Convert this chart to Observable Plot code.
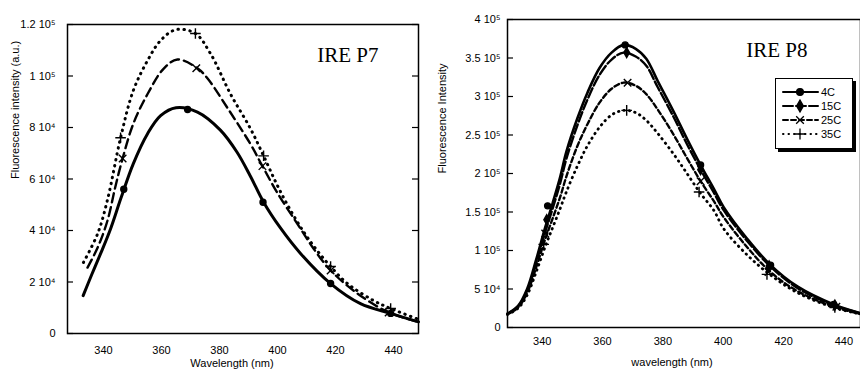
<!DOCTYPE html>
<html><head><meta charset="utf-8">
<script src="https://cdn.jsdelivr.net/npm/d3@7"></script>
<script src="https://cdn.jsdelivr.net/npm/@observablehq/plot@0.6"></script>
<style>
body{margin:0;background:#fff;font-family:"Liberation Sans",Arial,sans-serif;}
#wrap{position:relative;width:860px;height:370px;display:flex;overflow:hidden;}
.panel{width:430px;height:370px;}
#legend{position:absolute;left:775px;top:78px;width:76px;height:69px;border:1.2px solid #000;box-shadow:3px 3px 0 #000;background:#fff;}
</style></head><body>
<div id="wrap"><div id="p7" class="panel"></div><div id="p8" class="panel"></div><div id="legend"></div></div>
<script>
// ---------- DATA ----------
const seriesNames = ["4C", "15C", "25C", "35C"];

// IRE P7 (left panel)
const p7_4C_nm = [333, 336, 339, 342.4, 346, 350.3, 355.2, 359.7, 365, 372.4, 380.3, 386, 390.7, 395.2, 401, 408, 418.3, 428.6, 439, 448.6];
const p7_4C_v  = [14700, 23000, 31000, 40500, 52500, 66000, 77600, 84600, 87700, 86000, 79000, 70500, 61000, 51000, 41000, 31000, 19400, 11600, 7800, 4500];
const p7_25C_nm = [334.5, 338, 341.4, 344.1, 346.6, 350.3, 355.2, 360.7, 365.5, 372.4, 375.9, 382.8, 390.7, 394.8, 400, 406.9, 412.4, 418.3, 427.6, 438.3, 448.6];
const p7_25C_v  = [25600, 33400, 43900, 57000, 68000, 81500, 93000, 102800, 106400, 103000, 99000, 87500, 73500, 65000, 54500, 42500, 33000, 24500, 15500, 8200, 4500];
const p7_35C_nm = [333.1, 338, 341.4, 345.9, 350.3, 355.2, 359.7, 365, 371.7, 376.9, 383.8, 390.7, 395.2, 399.3, 403.4, 409, 413.8, 418.3, 424.1, 433.1, 439, 448.6];
const p7_35C_v  = [27600, 38800, 52000, 76000, 94400, 106000, 113800, 118000, 116500, 108700, 93000, 79500, 69000, 59000, 50000, 39500, 32000, 26000, 19400, 12800, 9700, 5500];
// P7 marker points
const p7_4C_mk_nm = [347, 369, 395, 418.3, 439];
const p7_4C_mk_v  = [56000, 87000, 51000, 19400, 7800];
const p7_25C_mk_nm = [346.6, 372, 394.8, 418.3, 438.3];
const p7_25C_mk_v  = [68000, 103000, 65000, 24500, 8200];
const p7_35C_mk_nm = [345.9, 371.7, 395.2, 418.3, 439];
const p7_35C_mk_v  = [76000, 116500, 69000, 26000, 9700];

// IRE P8 (right panel)
const p8_nm = [328.5, 332, 335, 338, 341, 343.5, 346, 348, 351.7, 355, 359, 363, 367, 371, 374.5, 378.3, 383.6, 388, 392.5, 396.9, 400.2, 408, 415.7, 424.7, 436.6, 446];
const p8_4C_v  = [18000, 28000, 50000, 88000, 130000, 162000, 196000, 228000, 272000, 305000, 337000, 357000, 367000, 362000, 349000, 320000, 280000, 245000, 211000, 180000, 156000, 115000, 81000, 53000, 30000, 18000];
const p8_15C_v = [18000, 27000, 48000, 84000, 124000, 155000, 188000, 219000, 263000, 296000, 328000, 348000, 357000, 352000, 340000, 312000, 273000, 238000, 205000, 175000, 152000, 112000, 79000, 51000, 29000, 18000];
const p8_25C_v = [17000, 26000, 45000, 78000, 115000, 142000, 170000, 196000, 236000, 264000, 292000, 310000, 318000, 314000, 303000, 283000, 250000, 220000, 190000, 164000, 143000, 104000, 72000, 47000, 27000, 17000];
const p8_35C_v = [17000, 25000, 42000, 72000, 105000, 130000, 155000, 176000, 210000, 236000, 260000, 276000, 282000, 279000, 269000, 252000, 225000, 200000, 174000, 152000, 128000, 94000, 68000, 45000, 26000, 17000];
// P8 marker points
const p8_4C_mk_nm = [341.8, 367.5, 392.5, 415.7, 436.6];
const p8_4C_mk_v  = [158000, 367000, 211000, 81000, 30000];
const p8_15C_mk_nm = [341.5, 368, 392.5, 415.2, 437];
const p8_15C_mk_v  = [140000, 357000, 205000, 80000, 29000];
const p8_25C_mk_nm = [341, 368.3, 392.5, 415, 437.5];
const p8_25C_mk_v  = [122000, 318000, 190000, 72000, 27000];
const p8_35C_mk_nm = [340.5, 368, 392, 414.5, 437];
const p8_35C_mk_v  = [108000, 282000, 176000, 69000, 26000];

// ticks
const p7_xTicks = [340, 360, 380, 400, 420, 440];
const p7_yTicks = [0, 20000, 40000, 60000, 80000, 100000, 120000];
const p7_yLabels = ["0", "2 10\u2074", "4 10\u2074", "6 10\u2074", "8 10\u2074", "1 10\u2075", "1.2 10\u2075"];
const p8_xTicks = [340, 360, 380, 400, 420, 440];
const p8_yTicks = [0, 50000, 100000, 150000, 200000, 250000, 300000, 350000, 400000];
const p8_yLabels = ["0", "5 10\u2074", "1 10\u2075", "1.5 10\u2075", "2 10\u2075", "2.5 10\u2075", "3 10\u2075", "3.5 10\u2075", "4 10\u2075"];

// ---------- STYLES ----------
const style = {
  "4C":  {dash: null,     width: 2.6, symbol: "circle",  fill: "black", r: 3},
  "15C": {dash: "10,3",   width: 2.4, symbol: "diamond", fill: "black", r: 3},
  "25C": {dash: "5,3",    width: 2.4, symbol: "times",   fill: "none",  r: 3.5},
  "35C": {dash: "0.5,5",  width: 2.8, symbol: "plus",    fill: "none",  r: 3.5}
};
const p7Style = {
  "4C":  {dash: null, width: 3},
  "25C": {dash: "9,5", width: 2.4},
  "35C": {dash: "0.5,5.5", width: 3}
};

const rows = (nm, v) => nm.map((x, i) => ({nm: x, v: v[i]}));

function seriesMarks(lineRows, mkRows, name, lineStyle) {
  const s = style[name];
  const ls = lineStyle || s;
  return [
    Plot.line(lineRows, {x: "nm", y: "v", curve: "catmull-rom", stroke: "black",
      strokeWidth: ls.width, strokeDasharray: ls.dash, strokeLinecap: "round"}),
    Plot.dot(mkRows, {x: "nm", y: "v", symbol: () => s.symbol, r: s.r,
      fill: s.fill === "none" ? "none" : "black", stroke: "black", strokeWidth: 1.4})
  ];
}

const fontStyle = {fontFamily: "'Liberation Sans', Arial, sans-serif", fontSize: "11px", color: "black", background: "white"};

// ---------- LEFT PANEL ----------
{
  const W = 430, ml = 67, mr = 12;
  const fw = W - ml - mr;
  const lab = new Map(p7_yTicks.map((t, i) => [t, p7_yLabels[i]]));
  const plot = Plot.plot({
    width: W, height: 370, marginLeft: ml, marginRight: mr, marginTop: 24, marginBottom: 37,
    style: fontStyle,
    x: {domain: [327.6, 448.6]},
    y: {domain: [0, 120000]},
    marks: [
      Plot.frame({stroke: "black", strokeWidth: 1.5}),
      Plot.axisX({ticks: p7_xTicks, tickSize: 0, tickPadding: 13, label: null, tickFormat: d => String(d)}),
      Plot.axisY({ticks: p7_yTicks, tickSize: 0, tickPadding: 12, label: null, tickFormat: d => lab.get(d)}),
      Plot.tickY(p7_yTicks, {y: d => d, insetRight: fw - 6, stroke: "black", strokeWidth: 1.2}),
      Plot.tickY(p7_yTicks, {y: d => d, insetLeft: fw - 6, stroke: "black", strokeWidth: 1.2}),
      ...seriesMarks(rows(p7_35C_nm, p7_35C_v), rows(p7_35C_mk_nm, p7_35C_mk_v), "35C", p7Style["35C"]),
      ...seriesMarks(rows(p7_25C_nm, p7_25C_v), rows(p7_25C_mk_nm, p7_25C_mk_v), "25C", p7Style["25C"]),
      ...seriesMarks(rows(p7_4C_nm, p7_4C_v), rows(p7_4C_mk_nm, p7_4C_mk_v), "4C", p7Style["4C"]),
      Plot.text(["IRE P7"], {text: d => d, frameAnchor: "top-right", dx: -40, dy: 23, lineAnchor: "top", textAnchor: "end",
        fontFamily: "'Liberation Serif', 'Times New Roman', serif", fontSize: 21}),
      Plot.text(["Wavelength (nm)"], {text: d => d, frameAnchor: "bottom", dx: -11, dy: 30, lineAnchor: "middle", fontSize: 11}),
      Plot.text(["Fluorescence intensity (a.u.)"], {text: d => d, frameAnchor: "left", dx: -52, rotate: -90, lineAnchor: "middle", fontSize: 11})
    ]
  });
  document.getElementById("p7").append(plot);
}

// ---------- RIGHT PANEL ----------
{
  const W = 430, ml = 77, mr = 0;
  const fw = W - ml - mr;
  const lab = new Map(p8_yTicks.map((t, i) => [t, p8_yLabels[i]]));
  const plot = Plot.plot({
    width: W, height: 370, marginLeft: ml, marginRight: mr, marginTop: 19, marginBottom: 43,
    style: fontStyle,
    x: {domain: [328.5, 445.5]},
    y: {domain: [0, 400000]},
    marks: [
      Plot.frame({stroke: "black", strokeWidth: 1.5}),
      Plot.axisX({ticks: p8_xTicks, tickSize: 0, tickPadding: 10, label: null, tickFormat: d => String(d)}),
      Plot.axisY({ticks: p8_yTicks, tickSize: 0, tickPadding: 7, label: null, tickFormat: d => lab.get(d)}),
      Plot.tickY(p8_yTicks, {y: d => d, insetRight: fw - 6, stroke: "black", strokeWidth: 1.2}),
      ...seriesMarks(rows(p8_nm, p8_35C_v), rows(p8_35C_mk_nm, p8_35C_mk_v), "35C"),
      ...seriesMarks(rows(p8_nm, p8_25C_v), rows(p8_25C_mk_nm, p8_25C_mk_v), "25C"),
      ...seriesMarks(rows(p8_nm, p8_15C_v), rows(p8_15C_mk_nm, p8_15C_mk_v), "15C"),
      ...seriesMarks(rows(p8_nm, p8_4C_v), rows(p8_4C_mk_nm, p8_4C_mk_v), "4C"),
      Plot.text(["IRE P8"], {text: d => d, frameAnchor: "top-right", dx: -53, dy: 23, lineAnchor: "top", textAnchor: "end",
        fontFamily: "'Liberation Serif', 'Times New Roman', serif", fontSize: 21}),
      Plot.text(["wavelength (nm)"], {text: d => d, frameAnchor: "bottom", dx: -12, dy: 35, lineAnchor: "middle", fontSize: 11}),
      Plot.text(["Fluorescence Intensity"], {text: d => d, frameAnchor: "left", dx: -65, rotate: -90, lineAnchor: "middle", fontSize: 11})
    ]
  });
  document.getElementById("p8").append(plot);
}

// ---------- LEGEND ----------
{
  const svg = d3.select("#legend").append("svg").attr("width", 76).attr("height", 69)
    .style("font-family", "'Liberation Sans', Arial, sans-serif").style("font-size", "11px");
  const sym = {circle: d3.symbolCircle, diamond: d3.symbolDiamond, times: d3.symbolTimes, plus: d3.symbolPlus};
  seriesNames.forEach((name, i) => {
    const s = style[name];
    const y = 13 + i * 14;
    svg.append("line").attr("x1", 7).attr("x2", 42).attr("y1", y).attr("y2", y)
      .attr("stroke", "black").attr("stroke-width", 2).attr("stroke-linecap", "round")
      .attr("stroke-dasharray", s.dash);
    svg.append("path").attr("transform", `translate(24,${y})`)
      .attr("d", d3.symbol(sym[s.symbol], s.symbol === "circle" ? 36 : 40)())
      .attr("fill", s.fill === "none" ? "none" : "black").attr("stroke", "black").attr("stroke-width", 1.3);
    svg.append("text").attr("x", 45).attr("y", y).attr("dy", "0.35em").text(name);
  });
}
</script>
</body></html>
